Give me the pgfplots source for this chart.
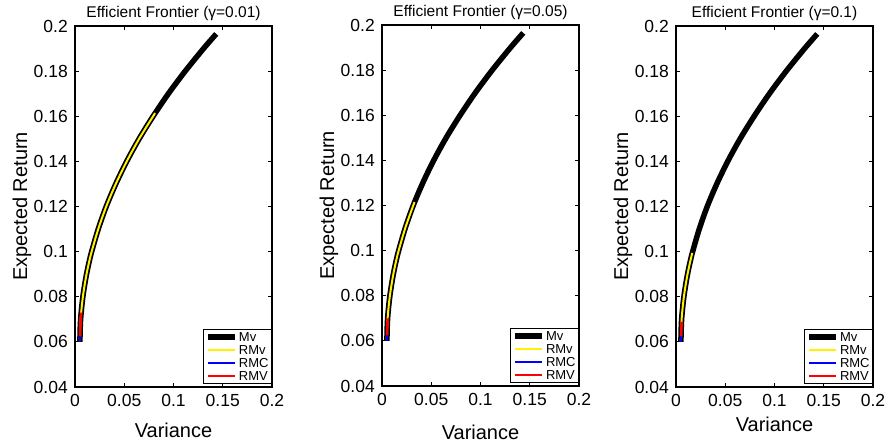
\documentclass[border=0pt]{standalone}
\usepackage{fontspec}
\setmainfont{Liberation Sans}
\usepackage{pgfplots}
\pgfplotsset{compat=1.18}
\usepackage{pgfplotstable}

% Mv frontier (variance, expected return)
\pgfplotstableread{
v r
0.0050 0.060
0.0052 0.065
0.0057 0.070
0.0067 0.075
0.0080 0.080
0.0097 0.085
0.0117 0.090
0.0141 0.095
0.0169 0.100
0.0236 0.110
0.0317 0.120
0.0414 0.130
0.0525 0.140
0.0651 0.150
0.0793 0.160
0.0948 0.170
0.1119 0.180
0.1305 0.190
0.1434 0.1965
}\mvdata

% RMv, gamma = 0.01
\pgfplotstableread{
v r
0.0050 0.060
0.0052 0.065
0.0057 0.070
0.0067 0.075
0.0080 0.080
0.0097 0.085
0.0117 0.090
0.0141 0.095
0.0169 0.100
0.0236 0.110
0.0317 0.120
0.0414 0.130
0.0525 0.140
0.0651 0.150
0.0793 0.160
0.0813 0.1614
}\rmvA
% RMv, gamma = 0.05
\pgfplotstableread{
v r
0.0050 0.060
0.0052 0.065
0.0057 0.070
0.0067 0.075
0.0080 0.080
0.0097 0.085
0.0117 0.090
0.0141 0.095
0.0169 0.100
0.0236 0.110
0.0317 0.120
0.0331 0.1215
}\rmvB
% RMv, gamma = 0.1
\pgfplotstableread{
v r
0.0050 0.060
0.0052 0.065
0.0057 0.070
0.0067 0.075
0.0080 0.080
0.0097 0.085
0.0117 0.090
0.0141 0.095
0.0165 0.0994
}\rmvC

% RMC (same in all panels)
\pgfplotstableread{
v r
0.0050 0.0600
0.0051 0.0626
}\rmcdata

% RMV
\pgfplotstableread{
v r
0.0051 0.0625
0.0057 0.0700
0.0063 0.0730
}\rmVA
\pgfplotstableread{
v r
0.0051 0.0625
0.0057 0.0700
}\rmVB
\pgfplotstableread{
v r
0.0051 0.0625
0.0056 0.0690
}\rmVC

\pgfplotsset{
  efax/.style={
    scale only axis, width=197pt, height=361pt,
    anchor=south west,
    xmin=0, xmax=0.2, ymin=0.04, ymax=0.2,
    xtick={0,0.05,0.1,0.15,0.2},
    ytick={0.04,0.06,0.08,0.1,0.12,0.14,0.16,0.18,0.2},
    scaled ticks=false,
    tick align=inside,
    major tick length=4pt,
    tick style={black, line width=0.8pt},
    axis line style={black, line width=1.1pt},
    /pgf/number format/.cd, fixed, precision=2, assume math mode=true,
    /pgfplots/.cd,
    tick label style={font=\fontsize{17.5}{18}\selectfont},
    xticklabel style={anchor=north, inner sep=0pt, yshift=-7pt},
    yticklabel style={anchor=east, inner sep=0pt, xshift=-7pt},
    label style={font=\fontsize{20}{22}\selectfont},
    xlabel={Variance},
    ylabel={Expected Return},
    ylabel style={at={(axis description cs:0,0.5)}, anchor=center, yshift=53pt},
    every axis title shift=0pt,
    title style={font=\fontsize{15.5}{16}\selectfont, at={(axis description cs:0.5,1)}, anchor=base, yshift=8pt},
    legend image code/.code={\draw[#1, line cap=butt] (0pt,0pt) -- (27pt,0pt);},
    legend cell align=left,
    legend style={at={(axis description cs:1,0)}, anchor=south east, yshift=3pt,
      font=\fontsize{13}{13}\selectfont, draw=black, line width=0.8pt, fill=white,
      inner xsep=2pt, inner ysep=1pt, row sep=0pt, column sep=0pt,
      nodes={inner sep=1pt, text height=9.5pt, text depth=1.5pt}},
  },
  mvst/.style={black, line width=5.5pt, line cap=butt, line join=round, smooth, tension=0.5},
  rmvst/.style={yellow, line width=2pt, line cap=butt, line join=round, smooth, tension=0.5},
  rmcst/.style={blue, line width=2pt, line cap=butt},
  rmVst/.style={red, line width=2.5pt, line cap=butt},
}

\begin{document}
\begin{tikzpicture}
\useasboundingbox (0pt,0pt) rectangle (893pt,445pt);

\begin{axis}[efax, at={(75pt,58pt)},
  title={Efficient Frontier (γ=0.01)},
  xlabel style={at={(axis description cs:0.5,0)}, anchor=center, yshift=-43pt}]
\addplot[mvst] table[x=v,y=r] {\mvdata};
\addlegendentry{Mv}
\addplot[rmvst] table[x=v,y=r] {\rmvA};
\addlegendentry{RMv}
\addplot[rmcst] table[x=v,y=r] {\rmcdata};
\addlegendentry{RMC}
\addplot[rmVst] table[x=v,y=r] {\rmVA};
\addlegendentry{RMV}
\end{axis}

\begin{axis}[efax, at={(382pt,59pt)},
  title={Efficient Frontier (γ=0.05)},
  xlabel style={at={(axis description cs:0.5,0)}, anchor=center, yshift=-46pt}]
\addplot[mvst] table[x=v,y=r] {\mvdata};
\addlegendentry{Mv}
\addplot[rmvst] table[x=v,y=r] {\rmvB};
\addlegendentry{RMv}
\addplot[rmcst] table[x=v,y=r] {\rmcdata};
\addlegendentry{RMC}
\addplot[rmVst] table[x=v,y=r] {\rmVB};
\addlegendentry{RMV}
\end{axis}

\begin{axis}[efax, at={(676pt,58pt)},
  title={Efficient Frontier (γ=0.1)},
  xlabel style={at={(axis description cs:0.5,0)}, anchor=center, yshift=-37pt}]
\addplot[mvst] table[x=v,y=r] {\mvdata};
\addlegendentry{Mv}
\addplot[rmvst] table[x=v,y=r] {\rmvC};
\addlegendentry{RMv}
\addplot[rmcst] table[x=v,y=r] {\rmcdata};
\addlegendentry{RMC}
\addplot[rmVst] table[x=v,y=r] {\rmVC};
\addlegendentry{RMV}
\end{axis}
\end{tikzpicture}
\end{document}
